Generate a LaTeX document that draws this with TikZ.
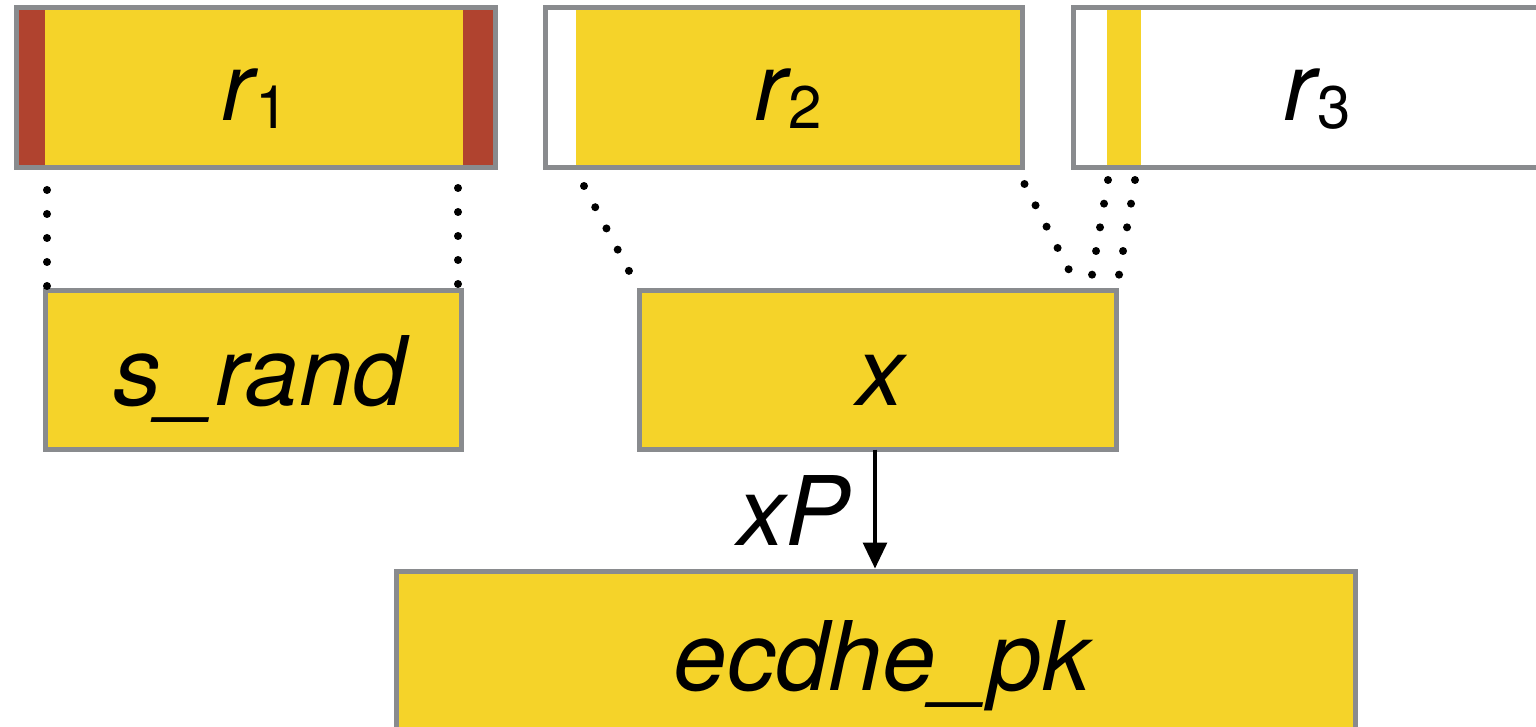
\documentclass[tikz,border=0pt]{standalone}
\usepackage{fontspec}
\setmainfont{TeX Gyre Heros}
\usetikzlibrary{arrows.meta,calc}
\definecolor{boxyellow}{HTML}{F5D329}
\definecolor{boxred}{HTML}{B0432F}
\definecolor{boxgray}{HTML}{898B8E}
\newcommand{\rsub}[1]{\textit{r}\kern1pt\raisebox{-4pt}{\fontsize{30}{30}\selectfont\upshape #1}}
\tikzset{
  box/.style={rectangle, inner sep=0pt, outer sep=0pt, fill=boxyellow, draw=boxgray, line width=2.5pt},
  border/.style={draw=boxgray, line width=2.5pt},
  lbl/.style={inner sep=0pt, anchor=base, font=\fontsize{48}{48}\selectfont\itshape},
  dots/.style={line width=4pt, line cap=round, dash pattern=on 0pt off 12pt},
  arr/.style={line width=1.6pt, -{Triangle[length=13pt,width=12pt]}}
}
\begin{document}
\begin{tikzpicture}[x=0.5pt,y=-0.5pt]
\useasboundingbox (0,0) rectangle (1536,727);
\clip (0,0) rectangle (1536,727);
% boxes
\node[box, minimum width=239.5pt, minimum height=80pt] (r1) at (256,87.5) {};
\node[box, minimum width=238.5pt, minimum height=80pt] (r2) at (784,87.5) {};
\node[box, fill=white, minimum width=270pt, minimum height=80pt] (r3) at (1343.5,87.5) {};
\node[box, minimum width=208pt, minimum height=79.5pt] (srand) at (253.5,370) {};
\node[box, minimum width=238.5pt, minimum height=79.5pt] (xbox) at (878,370) {};
\node[box, minimum width=479.5pt, minimum height=114.25pt] (ecdhe) at (876,685.75) {};
% strips
\fill[boxred] (r1.north west) rectangle (45,167.5);
\fill[boxred] (463,7.5) rectangle (r1.south east);
\fill[white] (r2.north west) rectangle (576,167.5);
\fill[boxyellow] (1107,7.5) rectangle (1141,167.5);
% borders on top
\draw[border] (r1.north west) rectangle (r1.south east);
\draw[border] (r2.north west) rectangle (r2.south east);
\draw[border] (r3.north west) rectangle (r3.south east);
% labels
\node[lbl] (t1) at (255,121) {\rsub{1}};
\node[lbl] (t2) at (788,121) {\rsub{2}};
\node[lbl] (t3) at (1317,121) {\rsub{3}};
\node[lbl] (ts) at (260,405) {s\_rand};
\node[lbl] (tx) at (880,405) {x};
\node[lbl] (te) at (882,690) {ecdhe\_pk};
% dotted connectors
\coordinate (a1) at (47,190);   \coordinate (b1) at (47,286);
\coordinate (a2) at (458,188);  \coordinate (b2) at (458,284);
\coordinate (a3) at (584,186);  \coordinate (b3) at (629,271);
\coordinate (a4) at (1024.5,184); \coordinate (b4) at (1069,270);
\coordinate (a5) at (1108,180); \coordinate (b5) at (1092,275);
\coordinate (a6) at (1135,180); \coordinate (b6) at (1119,275);
\draw[dots] (a1) -- (b1);
\draw[dots] (a2) -- (b2);
\draw[dots] (a3) -- (b3);
\draw[dots] (a4) -- (b4);
\draw[dots] (a5) -- (b5);
\draw[dots] (a6) -- (b6);
% arrow
\draw[arr] ($(xbox.south)+(-3,0)$) -- ($(ecdhe.north)+(-1,-3)$);
\node[lbl] (txp) at (794,545) {xP};
\end{tikzpicture}
\end{document}
